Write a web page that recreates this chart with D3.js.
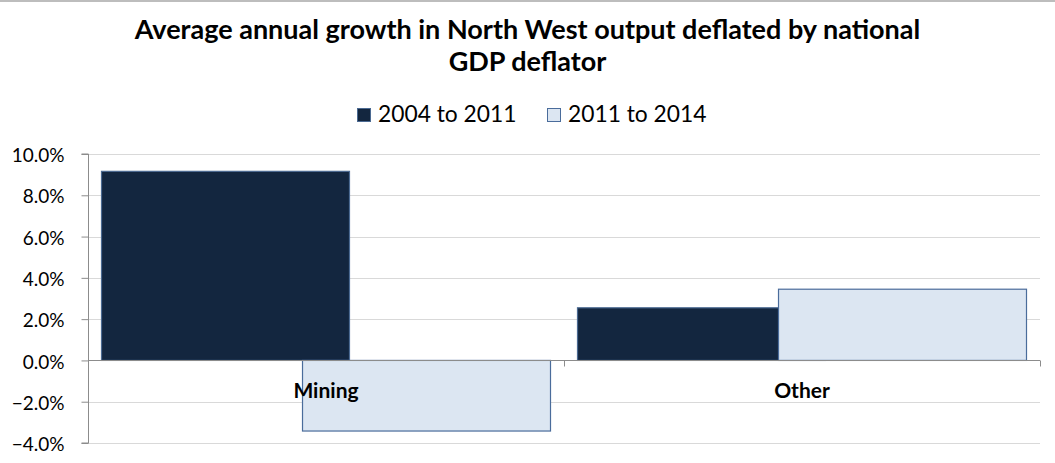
<!DOCTYPE html>
<html>
<head>
<meta charset="utf-8">
<script src="https://cdn.jsdelivr.net/npm/d3@7/dist/d3.min.js"></script>
<style>
  html, body { margin: 0; padding: 0; background: #fff; }
  svg { display: block; }
  text { font-family: Lato, "Open Sans", "Liberation Sans", sans-serif; fill: #000; }
</style>
</head>
<body>
<svg id="chart" width="1055" height="463"></svg>
<script>
// Chart data
const titleLines = ["Average annual growth in North West output deflated by national", "GDP deflator"];
const categories = ["Mining", "Other"];
const seriesNames = ["2004 to 2011", "2011 to 2014"];
const growth2004to2011 = [0.0916, 0.0255];
const growth2011to2014 = [-0.0342, 0.0345];
const yTicks = [-0.04, -0.02, 0, 0.02, 0.04, 0.06, 0.08, 0.10];

const seriesValues = [growth2004to2011, growth2011to2014];
const fills = ["#13263f", "#dce6f2"];
const strokes = ["#4b6a92", "#4a6c9b"];

const svg = d3.select("#chart");
const W = 1055, H = 463;
const plot = { left: 88, right: 1040, top: 154, bottom: 443 };

// top rule
svg.append("rect").attr("x", 0).attr("y", 0).attr("width", W).attr("height", 2).attr("fill", "#bdbdbd");

// Title, two centred lines
const title = svg.append("text")
  .attr("x", W / 2).attr("y", 39)
  .attr("text-anchor", "middle")
  .style("font-size", "27px").style("font-weight", "bold");
titleLines.forEach((t, i) => {
  title.append("tspan").attr("x", W / 2).attr("dy", i === 0 ? 0 : 32).text(t);
});

// Scales
const y = d3.scaleLinear().domain([-0.04, 0.10]).range([plot.bottom, plot.top]);
const x = d3.scaleBand().domain(categories).range([plot.left, plot.right]).paddingInner(0).paddingOuter(0);
const catW = x.bandwidth();
const barW = catW * 0.521;
const step = catW * 0.4223;
const fmt = d3.format(".1%");

// Gridlines
svg.append("g").selectAll("line").data(yTicks.filter(d => d !== 0))
  .join("line")
  .attr("x1", plot.left).attr("x2", plot.right)
  .attr("y1", d => Math.round(y(d)) + 0.5).attr("y2", d => Math.round(y(d)) + 0.5)
  .attr("stroke", "#d9d9d9").attr("stroke-width", 1);

// Bars (second series drawn on top, overlapping the first)
seriesValues.forEach((vals, s) => {
  svg.append("g").selectAll("rect").data(categories)
    .join("rect")
    .attr("x", (c) => x(c) + catW / 2 + (s - 0.5) * step - barW / 2)
    .attr("width", barW)
    .attr("y", (c, i) => y(Math.max(0, vals[i])))
    .attr("height", (c, i) => Math.abs(y(vals[i]) - y(0)))
    .attr("fill", fills[s])
    .attr("stroke", strokes[s]).attr("stroke-width", 1.2);
});

// Y axis
const yAxis = d3.axisLeft(y).tickValues(yTicks).tickFormat(fmt).tickSize(7).tickPadding(17);
const gy = svg.append("g").attr("transform", `translate(${plot.left + 0.5},0)`).call(yAxis);
gy.select(".domain").attr("stroke", "#8c8c8c").attr("d", `M-7,${y(0.10)}H0V${y(-0.04)}H-7`);
gy.selectAll(".tick line").attr("stroke", "#8c8c8c");
gy.selectAll(".tick text").style("font-size", "19px").style("font-family", "Lato, 'Open Sans', sans-serif")
  .attr("fill", "#000").attr("dy", "0.4em");

// Category axis along zero
const gx = svg.append("g").attr("transform", `translate(0,${Math.round(y(0)) + 0.5})`);
gx.append("line").attr("x1", plot.left).attr("x2", plot.right).attr("stroke", "#8c8c8c");
const boundaries = categories.map(c => x(c) + catW);
gx.selectAll("line.tk").data(boundaries).join("line").attr("class", "tk")
  .attr("x1", d => Math.round(d) + 0.5).attr("x2", d => Math.round(d) + 0.5)
  .attr("y1", 0).attr("y2", 6).attr("stroke", "#8c8c8c");
gx.selectAll("text").data(categories).join("text")
  .attr("x", c => x(c) + catW / 2).attr("y", 37)
  .attr("text-anchor", "middle")
  .style("font-size", "21px").style("font-weight", "bold")
  .text(c => c);

// Legend
const legend = svg.append("g").attr("transform", "translate(357,108)");
const legendX = [0, 190];
seriesNames.forEach((name, s) => {
  const g = legend.append("g").attr("transform", `translate(${legendX[s]},0)`);
  g.append("rect").attr("x", 0.5).attr("y", 0.5).attr("width", 13).attr("height", 13)
    .attr("fill", fills[s]).attr("stroke", strokes[s]);
  g.append("text").attr("x", 21).attr("y", 14).style("font-size", "22.8px").text(name);
});
</script>
</body>
</html>
